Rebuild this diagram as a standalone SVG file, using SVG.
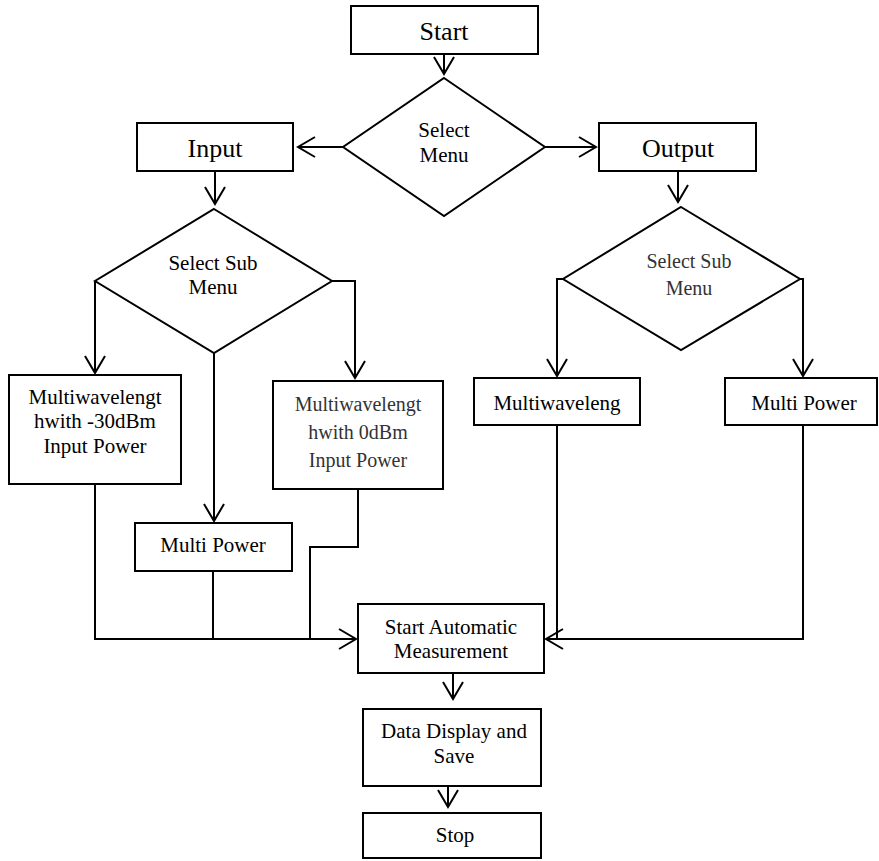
<svg xmlns="http://www.w3.org/2000/svg" width="879" height="861" viewBox="0 0 879 861">
<defs>
<marker id="arr" markerUnits="userSpaceOnUse" markerWidth="30" markerHeight="30" viewBox="-20 -15 30 30" refX="0" refY="0" orient="auto">
<path d="M -17 -10 L 0 0 L -17 10" fill="none" stroke="#000" stroke-width="2"/>
</marker>
<style>
.box{fill:#fff;stroke:#000;stroke-width:2}
.t{font-family:"Liberation Serif","Times New Roman",serif;font-size:21px;fill:#000;text-anchor:middle}
.big{font-size:26px}
.g{fill:#333;font-size:20px}
.c{fill:none;stroke:#000;stroke-width:2}
</style>
</defs>
<g id="connectors">
<path class="c" d="M444 54 V74" marker-end="url(#arr)"/>
<path class="c" d="M343 147 H298" marker-end="url(#arr)"/>
<path class="c" d="M545 147 H596" marker-end="url(#arr)"/>
<path class="c" d="M215 171 V204" marker-end="url(#arr)"/>
<path class="c" d="M678 171 V202" marker-end="url(#arr)"/>
<path class="c" d="M95 281 V373" marker-end="url(#arr)"/>
<path class="c" d="M214 353 V521" marker-end="url(#arr)"/>
<path class="c" d="M332 281 H355 V378" marker-end="url(#arr)"/>
<path class="c" d="M563 279 H557 V376" marker-end="url(#arr)"/>
<path class="c" d="M800 279 H803 V376" marker-end="url(#arr)"/>
<path class="c" d="M95 484 V639 H356" marker-end="url(#arr)"/>
<path class="c" d="M213 571 V639"/>
<path class="c" d="M358 489 V547 H310 V639"/>
<path class="c" d="M557 425 V639"/>
<path class="c" d="M803 425 V639 H546" marker-end="url(#arr)"/>
<path class="c" d="M453 673 V699" marker-end="url(#arr)"/>
<path class="c" d="M448 786 V807" marker-end="url(#arr)"/>
</g>
<g id="start">
<rect class="box" x="351" y="6" width="187" height="48"/>
<text class="t big" x="444" y="40">Start</text>
</g>
<g id="select-menu">
<polygon class="box" points="444,78 545,147 444,216 343,147"/>
<text class="t" x="444" y="137">Select</text>
<text class="t" x="444" y="162">Menu</text>
</g>
<g id="input">
<rect class="box" x="137" y="123" width="156" height="48"/>
<text class="t big" x="215" y="157">Input</text>
</g>
<g id="output">
<rect class="box" x="599" y="123" width="157" height="48"/>
<text class="t big" x="678" y="157">Output</text>
</g>
<g id="select-sub-input">
<polygon class="box" points="214,209 332,281 214,353 95,281"/>
<text class="t" x="213" y="270">Select Sub</text>
<text class="t" x="213" y="294">Menu</text>
</g>
<g id="select-sub-output">
<polygon class="box" points="681,207 800,279 681,350 563,279"/>
<text class="t g" x="689" y="268">Select Sub</text>
<text class="t g" x="689" y="295">Menu</text>
</g>
<g id="mw-30">
<rect class="box" x="9" y="375" width="172" height="109"/>
<text class="t" x="95" y="404">Multiwavelengt</text>
<text class="t" x="95" y="428">hwith -30dBm</text>
<text class="t" x="95" y="453">Input Power</text>
</g>
<g id="mw-0">
<rect class="box" x="273" y="381" width="170" height="108"/>
<text class="t g" x="358" y="411">Multiwavelengt</text>
<text class="t g" x="358" y="439">hwith 0dBm</text>
<text class="t g" x="358" y="467">Input Power</text>
</g>
<g id="multi-power-in">
<rect class="box" x="135" y="523" width="157" height="48"/>
<text class="t" x="213" y="552">Multi Power</text>
</g>
<g id="mw-out">
<rect class="box" x="474" y="378" width="166" height="47"/>
<text class="t" x="557" y="410">Multiwaveleng</text>
</g>
<g id="multi-power-out">
<rect class="box" x="725" y="378" width="152" height="47"/>
<text class="t" x="804" y="410">Multi Power</text>
</g>
<g id="start-auto">
<rect class="box" x="358" y="604" width="186" height="69"/>
<text class="t" x="451" y="634">Start Automatic</text>
<text class="t" x="451" y="658">Measurement</text>
</g>
<g id="data-display">
<rect class="box" x="363" y="709" width="178" height="77"/>
<text class="t" x="454" y="738">Data Display and</text>
<text class="t" x="454" y="763">Save</text>
</g>
<g id="stop">
<rect class="box" x="363" y="813" width="178" height="45"/>
<text class="t" x="455" y="842">Stop</text>
</g>
</svg>
